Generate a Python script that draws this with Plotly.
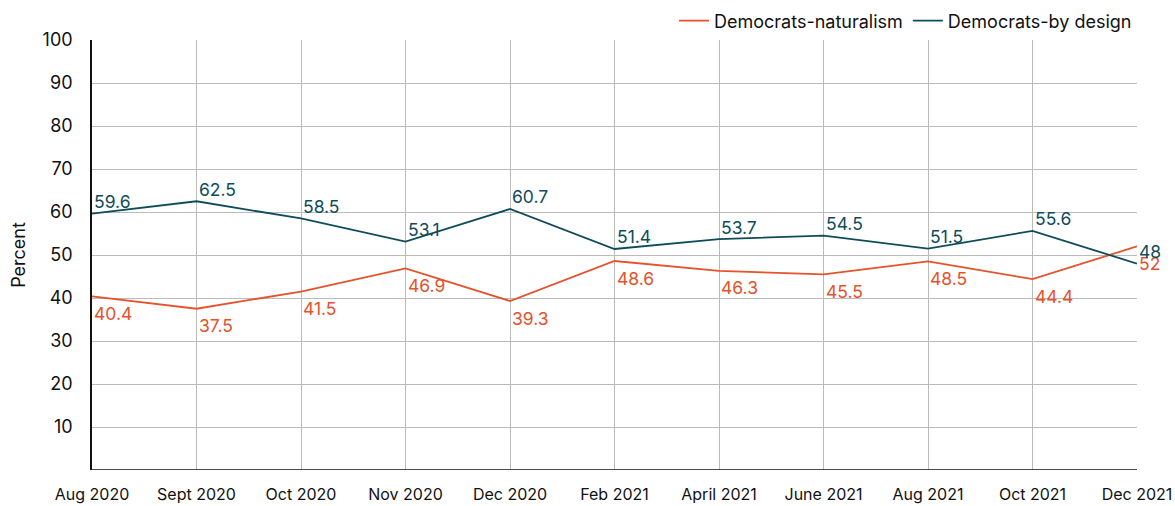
import plotly.graph_objects as go

months = ["Aug 2020", "Sept 2020", "Oct 2020", "Nov 2020", "Dec 2020", "Feb 2021",
          "April 2021", "June 2021", "Aug 2021", "Oct 2021", "Dec 2021"]
naturalism = [40.4, 37.5, 41.5, 46.9, 39.3, 48.6, 46.3, 45.5, 48.5, 44.4, 52]
by_design = [59.6, 62.5, 58.5, 53.1, 60.7, 51.4, 53.7, 54.5, 51.5, 55.6, 48]

ORANGE = "#E5522B"
TEAL = "#0F4C5A"
FONT = "Inter, Roboto, 'Noto Sans', sans-serif"

fig = go.Figure()
fig.add_trace(go.Scatter(
    x=months, y=naturalism, name="Democrats-naturalism", mode="lines",
    line=dict(color=ORANGE, width=1.8),
))
fig.add_trace(go.Scatter(
    x=months, y=by_design, name="Democrats-by design", mode="lines",
    line=dict(color=TEAL, width=1.8),
))

annotations = []
for series, color, shift in ((naturalism, ORANGE, -17), (by_design, TEAL, 12)):
    for m, v in zip(months, series):
        annotations.append(dict(
            x=m, y=v, xref="x", yref="y", text=f"{v:g}", showarrow=False,
            xanchor="left", yanchor="middle", xshift=0, yshift=shift,
            font=dict(color=color, size=17.5, family=FONT),
        ))

fig.update_layout(
    width=1175, height=506,
    margin=dict(l=92, r=38, t=40, b=36),
    plot_bgcolor="white", paper_bgcolor="white",
    font=dict(family=FONT, color="#111111"),
    showlegend=True,
    annotations=annotations,
    legend=dict(orientation="h", xref="paper", x=1, xanchor="right",
                yref="container", y=1 - 21 / 506, yanchor="middle",
                font=dict(size=18, family=FONT), bgcolor="rgba(0,0,0,0)"),
    xaxis=dict(type="category", range=[0, len(months) - 1],
               showgrid=True, gridcolor="#BBBBBB", gridwidth=1,
               showline=False, zeroline=False, automargin=False,
               tickfont=dict(size=16, family=FONT),
               ticks="outside", ticklen=10, tickcolor="rgba(0,0,0,0)"),
    yaxis=dict(range=[0, 100], tickvals=[10, 20, 30, 40, 50, 60, 70, 80, 90, 100],
               showgrid=True, gridcolor="#BBBBBB", gridwidth=1,
               showline=True, linecolor="#111111", linewidth=1.5,
               zeroline=False, automargin=False,
               tickfont=dict(size=18, family=FONT),
               ticks="outside", ticklen=14, tickcolor="rgba(0,0,0,0)",
               title=dict(text="Percent", font=dict(size=18, family=FONT), standoff=12)),
)
# bottom axis line at y=0
fig.add_hline(y=0, line=dict(color="#111111", width=1.5))
fig.write_html("out.html", config={"displayModeBar": False},
               post_script="document.body.style.margin='0';document.body.style.overflow='hidden';")
